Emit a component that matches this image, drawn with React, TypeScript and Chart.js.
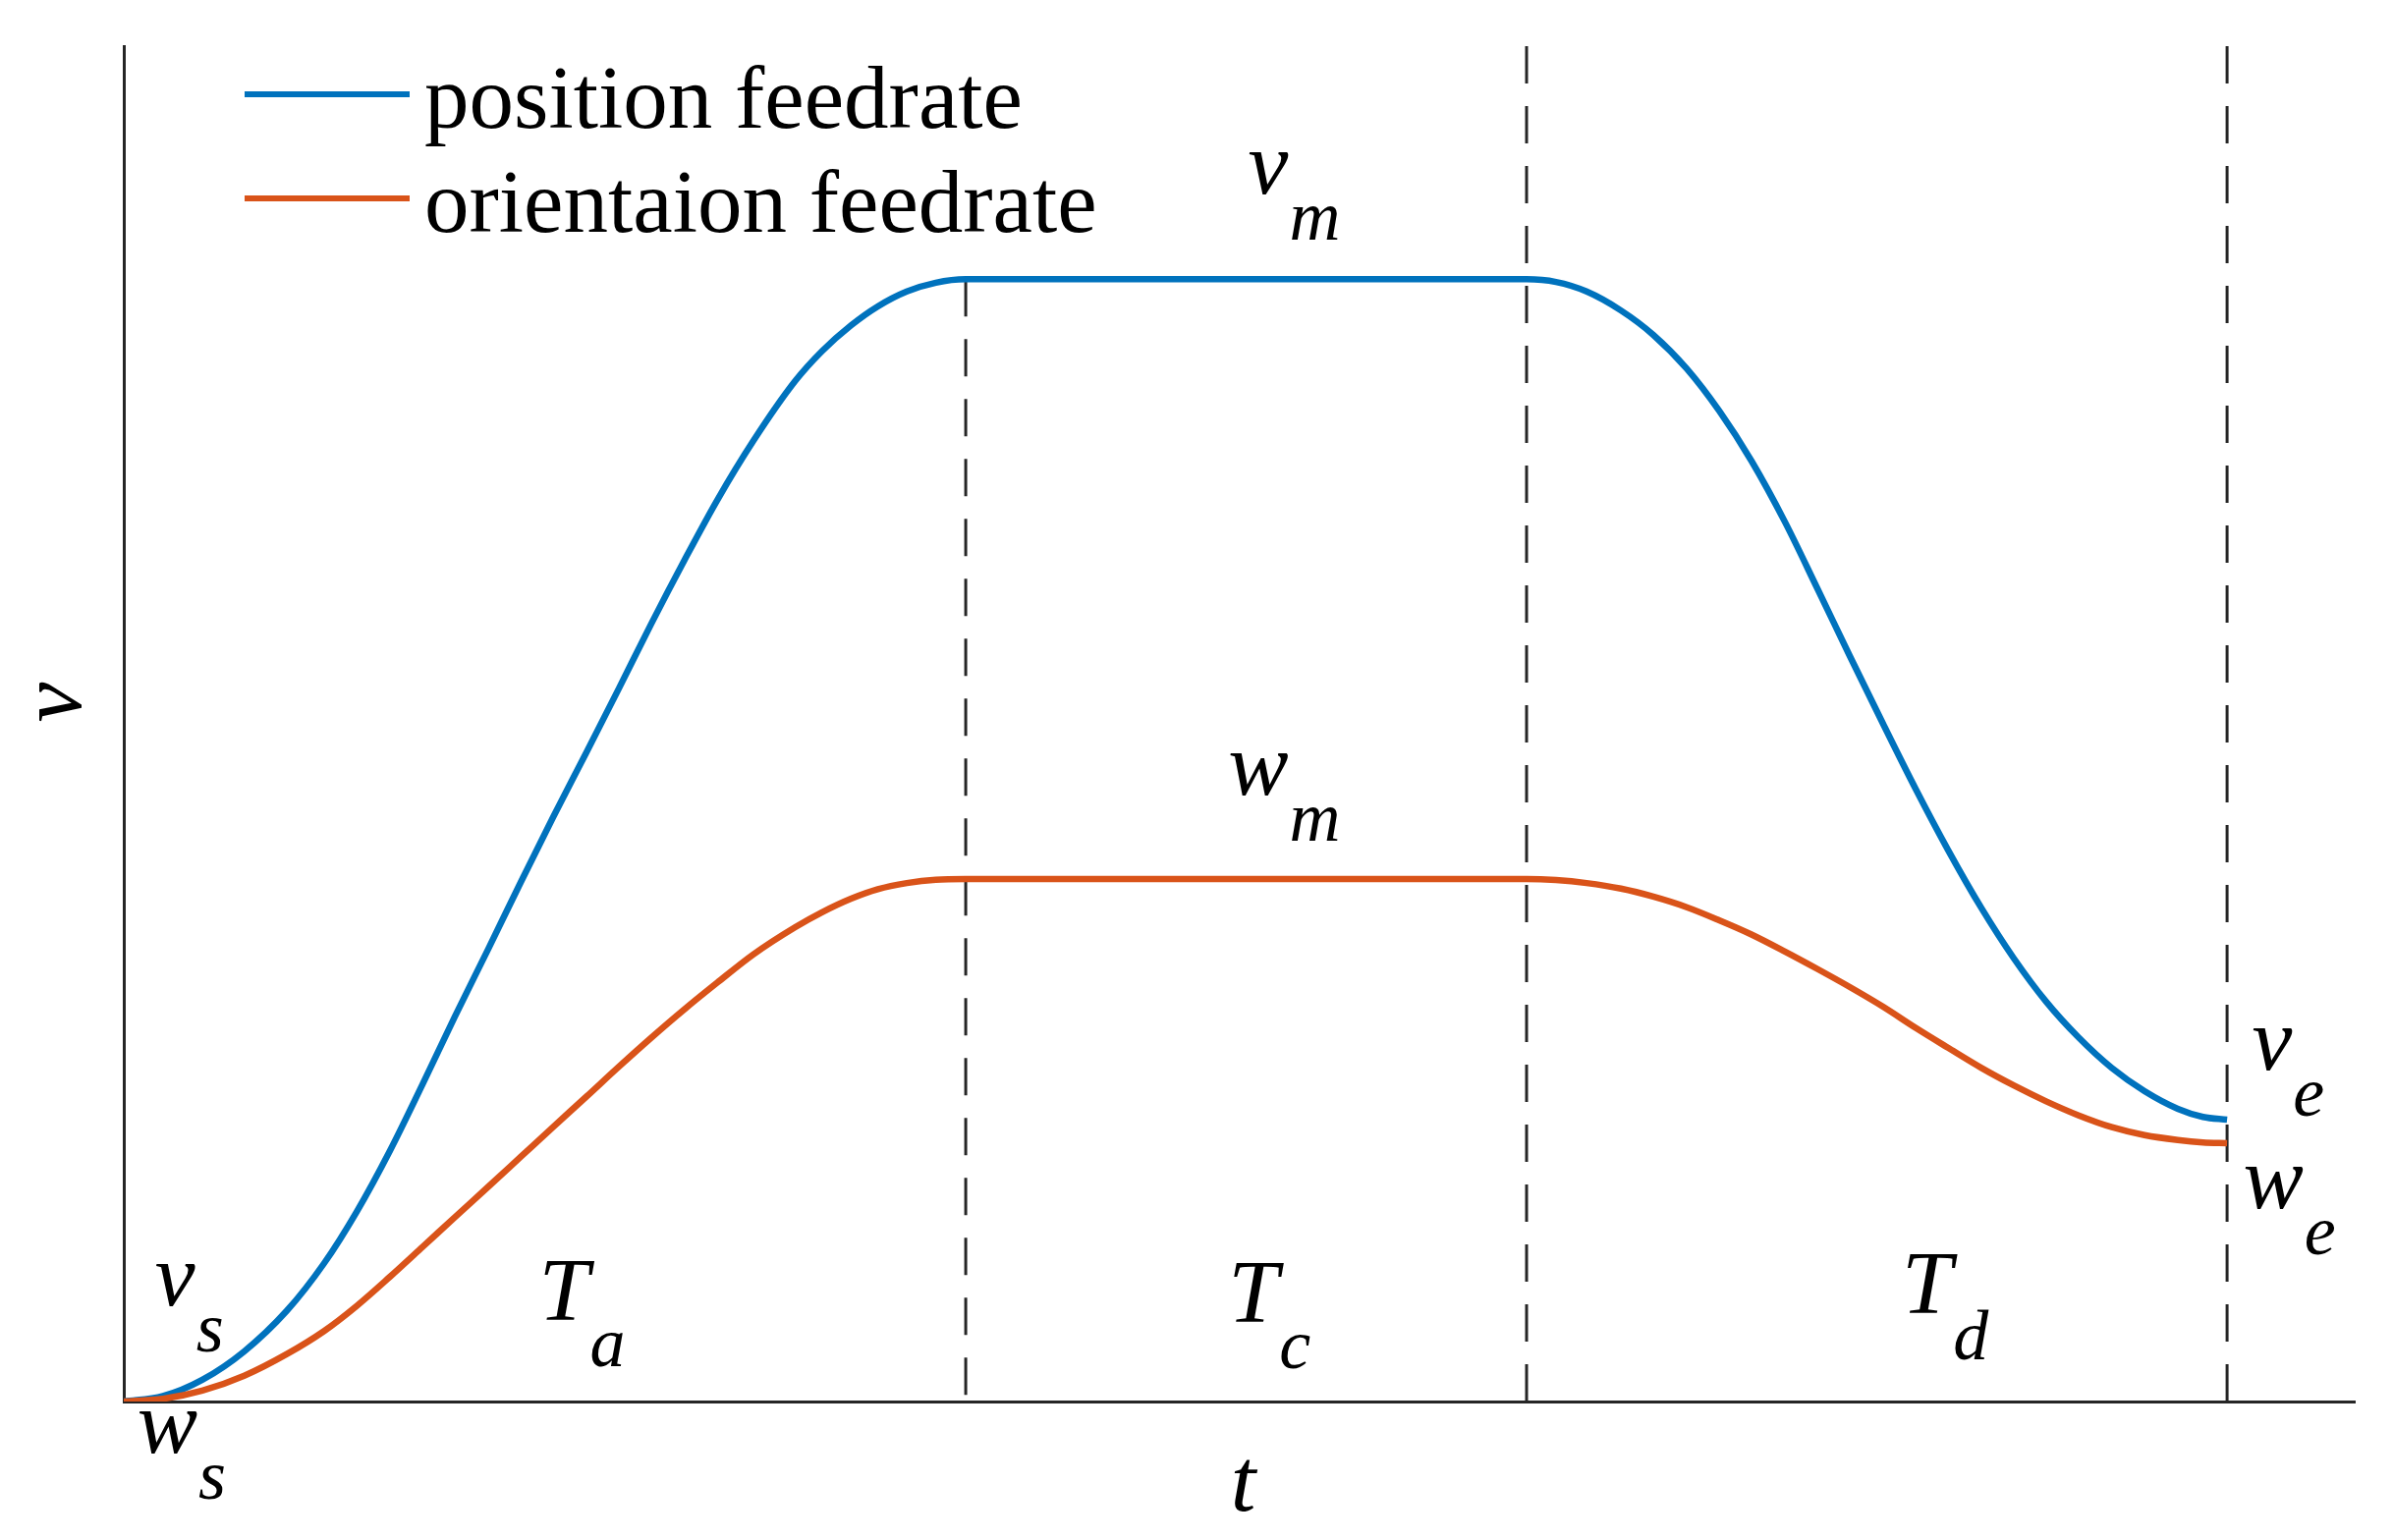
import React, { useEffect, useRef } from 'react';
import { Chart, registerables } from 'chart.js';

Chart.register(...registerables);

// ---- data ----
const tValues = [
  0, 1.76, 3.52, 5.4, 7.31, 8.98, 10.44, 11.93, 13.39, 14.84, 16.34, 17.79, 19.24, 20.74, 22.19, 23.65,
  25.14, 26.6, 28.23, 30.1, 31.3, 32.6, 33.8, 35.1, 36.4, 37.74,
  62.88, 64.2, 65.57, 67.11, 68.56, 70.06, 71.51, 72.96, 74.46, 75.91, 77.37, 78.86, 80.32, 81.77,
  83.27, 84.72, 86.17, 87.6, 89.12, 90.58, 92.07, 93.2, 94.28,
];
const positionFeedrate = [
  0, 0.4, 1.6, 3.7, 6.7, 10.2, 14.0, 18.5, 23.4, 28.4, 33.4, 38.3, 43.1, 47.9, 52.6, 57.4,
  62.1, 66.5, 70.9, 75.3, 77.5, 79.4, 80.8, 81.9, 82.55, 82.8,
  82.8, 82.6, 81.9, 80.5, 78.7, 76.2, 73.1, 69.4, 64.9, 60.0, 55.0, 50.0, 45.2, 40.7,
  36.4, 32.7, 29.5, 26.9, 24.6, 22.9, 21.6, 21.0, 20.8,
];
const orientationFeedrate = [
  0, 0.2, 0.8, 1.9, 3.5, 5.2, 7.05, 9.2, 11.4, 13.6, 15.85, 18.05, 20.25, 22.5, 24.7, 26.85,
  28.95, 30.9, 33.0, 35.0, 36.1, 37.1, 37.8, 38.25, 38.5, 38.55,
  38.55, 38.47, 38.25, 37.84, 37.25, 36.47, 35.51, 34.46, 33.2, 31.92, 30.58, 29.13, 27.57, 26.1,
  24.61, 23.32, 22.15, 21.13, 20.24, 19.66, 19.3, 19.12, 19.06,
];
const seriesLabels = ['position feedrate', 'orientaion feedrate'];
const phaseBoundaries = [37.74, 62.88, 94.28];
const boundaryTops = [82.8, 100, 100];
const axisLabels = { x: 't', y: 'v' };

const BLUE = '#0072BD';
const ORANGE = '#D95319';
const AXIS = '#262626';
const SERIF = '"Liberation Serif", "Times New Roman", serif';

// symbol labels (main letter + subscript), anchored in data units
const symbolLabels = [
  { main: 'v', sub: 'm', x: 50.4, y: 89.1 },
  { main: 'w', sub: 'm', x: 49.5, y: 44.8 },
  { main: 'v', sub: 's', x: 1.4, y: 7.1 },
  { main: 'w', sub: 's', x: 0.6, y: -3.8 },
  { main: 'T', sub: 'a', x: 18.6, y: 6.0 },
  { main: 'T', sub: 'c', x: 49.5, y: 5.9 },
  { main: 'T', sub: 'd', x: 79.7, y: 6.5 },
  { main: 'v', sub: 'e', x: 95.4, y: 24.5 },
  { main: 'w', sub: 'e', x: 95.0, y: 14.3 },
];

const overlayPlugin = {
  id: 'overlay',
  afterDraw(chart: any) {
    const { ctx, chartArea: ca, scales } = chart;
    const xs = scales.x;
    const ys = scales.y;
    ctx.save();
    ctx.fillStyle = '#000';

    // legend (inside plot, top-left)
    const legendItems = chart.data.datasets.filter((d: any) => d.inLegend);
    legendItems.forEach((d: any, i: number) => {
      const ly = ca.top + 49 + i * 106;
      ctx.strokeStyle = d.borderColor;
      ctx.lineWidth = 6;
      ctx.setLineDash([]);
      ctx.beginPath();
      ctx.moveTo(ca.left + 123, ly);
      ctx.lineTo(ca.left + 291, ly);
      ctx.stroke();
      ctx.font = `91px ${SERIF}`;
      ctx.textAlign = 'left';
      ctx.textBaseline = 'alphabetic';
      ctx.fillText(d.label, ca.left + 306, ly + 34);
    });

    // symbol labels with subscripts
    symbolLabels.forEach((l) => {
      const px = xs.getPixelForValue(l.x);
      const py = ys.getPixelForValue(l.y);
      ctx.font = `italic 92px ${SERIF}`;
      ctx.textAlign = 'left';
      ctx.textBaseline = 'alphabetic';
      ctx.fillText(l.main, px, py);
      const w = ctx.measureText(l.main).width;
      ctx.font = `italic 72px ${SERIF}`;
      ctx.fillText(l.sub, px + w + 1, py + 47);
    });

    // axis labels
    ctx.font = `italic 92px ${SERIF}`;
    ctx.textAlign = 'center';
    ctx.textBaseline = 'alphabetic';
    ctx.fillText(axisLabels.x, (ca.left + ca.right) / 2 + 4, ca.bottom + 111);
    ctx.translate(ca.left - 44, (ca.top + ca.bottom) / 2 - 22);
    ctx.rotate(-Math.PI / 2);
    ctx.fillText(axisLabels.y, 0, 0);
    ctx.restore();
  },
};

export default function App() {
  const ref = useRef<HTMLCanvasElement | null>(null);

  useEffect(() => {
    document.body.style.margin = '0';
    document.body.style.overflow = 'hidden';
    const canvas = ref.current;
    if (!canvas) return;

    const toPoints = (arr: number[]) => tValues.map((t, i) => ({ x: t, y: arr[i] }));

    const datasets: any[] = [
      {
        label: seriesLabels[0],
        data: toPoints(positionFeedrate),
        borderColor: BLUE,
        borderWidth: 6.5,
        pointRadius: 0,
        cubicInterpolationMode: 'monotone',
        fill: false,
        order: 1,
        inLegend: true,
      },
      {
        label: seriesLabels[1],
        data: toPoints(orientationFeedrate),
        borderColor: ORANGE,
        borderWidth: 6.5,
        pointRadius: 0,
        cubicInterpolationMode: 'monotone',
        fill: false,
        order: 0,
        inLegend: true,
      },
      ...phaseBoundaries.map((b, i) => ({
        label: 'boundary' + i,
        data: [{ x: b, y: boundaryTops[i] }, { x: b, y: 0 }],
        borderColor: AXIS,
        borderWidth: 3,
        borderDash: [38, 23],
        pointRadius: 0,
        fill: false,
        order: 2,
        inLegend: false,
      })),
    ];

    const chart = new Chart(canvas, {
      type: 'line',
      data: { datasets },
      options: {
        animation: false,
        responsive: false,
        devicePixelRatio: 1,
        layout: { padding: { left: 126, top: 47, right: 39, bottom: 141 } },
        plugins: { legend: { display: false }, tooltip: { enabled: false } },
        events: [],
        scales: {
          x: {
            type: 'linear',
            min: 0,
            max: 100,
            grid: { display: false, drawTicks: false },
            ticks: { display: false },
            border: { display: true, color: AXIS, width: 3 },
            afterFit: (s: any) => { s.height = 0; },
          },
          y: {
            type: 'linear',
            min: 0,
            max: 100,
            grid: { display: false, drawTicks: false },
            ticks: { display: false },
            border: { display: true, color: AXIS, width: 3 },
            afterFit: (s: any) => { s.width = 0; },
          },
        },
      },
      plugins: [overlayPlugin],
    });

    return () => chart.destroy();
  }, []);

  return (
    <div style={{ width: 2436, height: 1568, background: '#fff' }}>
      <canvas ref={ref} width={2436} height={1568} style={{ display: 'block' }} />
    </div>
  );
}
